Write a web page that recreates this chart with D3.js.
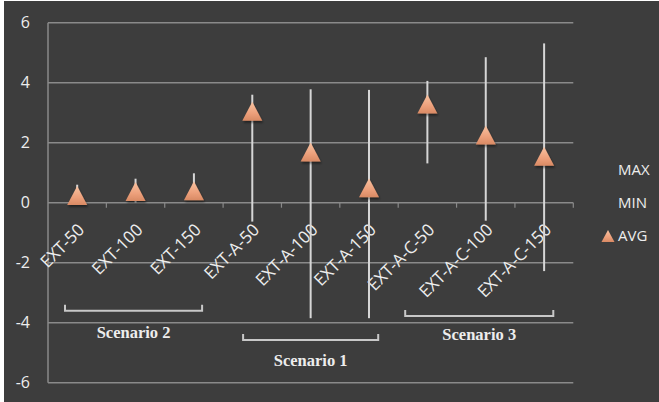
<!DOCTYPE html>
<html>
<head>
<meta charset="utf-8">
<script src="https://cdn.jsdelivr.net/npm/d3@7"></script>
<style>
  html, body { margin: 0; padding: 0; background: #ffffff; }
  svg { display: block; }
</style>
</head>
<body>
<script>
// ---- data ----
const categories = ["EXT-50", "EXT-100", "EXT-150", "EXT-A-50", "EXT-A-100", "EXT-A-150", "EXT-A-C-50", "EXT-A-C-100", "EXT-A-C-150"];
const avgValues = [0.24, 0.37, 0.40, 3.05, 1.69, 0.50, 3.29, 2.26, 1.55];
const maxValues = [0.60, 0.80, 0.98, 3.60, 3.78, 3.76, 4.06, 4.85, 5.31];
const minValues = [0.05, 0.00, 0.10, -0.63, -3.85, -3.85, 1.31, -0.60, -2.28];
const yTicks = [-6, -4, -2, 0, 2, 4, 6];
const scenarioNames = ["Scenario 2", "Scenario 1", "Scenario 3"];
const scenarioFirst = [0, 3, 6];
const scenarioLast = [2, 5, 8];
const legendLabels = ["MAX", "MIN", "AVG"];

// ---- layout ----
const W = 659, H = 402;
const plot = { left: 48, right: 573.3, top: 22.7, bottom: 382.7 };
const bracketLayout = [
  { y: -3.6,  ty: -4.31, inL: 17, inR: 21 },
  { y: -4.58, ty: -5.24, inL: 20, inR: 20 },
  { y: -3.78, ty: -4.39, inL: 7,  inR: 20 }
];
const sansFont = "'Open Sans', Lato, sans-serif";

const svg = d3.select("body").append("svg").attr("width", W).attr("height", H);
const defs = svg.append("defs");
const grad = defs.append("linearGradient").attr("id", "tri").attr("x1", 0).attr("y1", 0).attr("x2", 0).attr("y2", 1);
grad.append("stop").attr("offset", "0%").attr("stop-color", "#f8c3a2");
grad.append("stop").attr("offset", "60%").attr("stop-color", "#eda07b");
grad.append("stop").attr("offset", "100%").attr("stop-color", "#d98a64");
const shadow = defs.append("filter").attr("id", "sh").attr("x", "-50%").attr("y", "-50%").attr("width", "200%").attr("height", "200%");
shadow.append("feDropShadow").attr("dx", 1).attr("dy", 2).attr("stdDeviation", 1.2).attr("flood-color", "#000").attr("flood-opacity", 0.45);

svg.append("rect").attr("x", 4).attr("y", 1).attr("width", W - 4).attr("height", H - 1).attr("fill", "#3d3d3d");

const x = d3.scaleBand().domain(categories).range([plot.left, plot.right]).padding(0);
const y = d3.scaleLinear().domain([-6, 6]).range([plot.bottom, plot.top]);

const gridColor = "#8a8a8a";
const txtColor = "#ededed";

svg.append("g").selectAll("line").data(yTicks).join("line")
  .attr("x1", plot.left).attr("x2", plot.right)
  .attr("y1", d => y(d)).attr("y2", d => y(d))
  .attr("stroke", gridColor).attr("stroke-width", 1.5);
svg.append("line").attr("x1", plot.left).attr("x2", plot.left)
  .attr("y1", plot.top).attr("y2", plot.bottom)
  .attr("stroke", gridColor).attr("stroke-width", 1.5);

svg.append("g").selectAll("text").data(yTicks).join("text")
  .attr("x", 30).attr("y", d => y(d)).attr("dy", "0.36em")
  .attr("text-anchor", "end")
  .attr("font-family", sansFont).attr("font-size", 16)
  .attr("fill", txtColor).text(d => d);

const bounds = categories.map(c => x(c) + x.bandwidth());
svg.append("g").selectAll("line").data(bounds).join("line")
  .attr("x1", d => d).attr("x2", d => d)
  .attr("y1", y(0)).attr("y2", y(0) + 5)
  .attr("stroke", gridColor).attr("stroke-width", 1.2);

const cx = c => x(c) + x.bandwidth() / 2;
svg.append("g").selectAll("text").data(categories).join("text")
  .attr("transform", d => `translate(${cx(d) + 4},${y(0) + 24}) rotate(-45)`)
  .attr("text-anchor", "end").attr("dy", "0.35em")
  .attr("font-family", sansFont).attr("font-size", 17)
  .attr("fill", txtColor).text(d => d);

svg.append("g").selectAll("line").data(categories).join("line")
  .attr("x1", d => cx(d)).attr("x2", d => cx(d))
  .attr("y1", (d, i) => y(minValues[i])).attr("y2", (d, i) => y(maxValues[i]))
  .attr("stroke", "#d6d6d6").attr("stroke-width", 2);

const tw = 20, th = 19;
const triPath = `M0,${-th / 2}L${tw / 2},${th / 2}L${-tw / 2},${th / 2}Z`;
svg.append("g").selectAll("path").data(categories).join("path")
  .attr("d", triPath)
  .attr("transform", (d, i) => `translate(${cx(d)},${y(avgValues[i])})`)
  .attr("fill", "url(#tri)").attr("filter", "url(#sh)");

scenarioNames.forEach((name, i) => {
  const L = bracketLayout[i];
  const x0 = x(categories[scenarioFirst[i]]) + L.inL;
  const x1 = x(categories[scenarioLast[i]]) + x.bandwidth() - L.inR;
  const yb = y(L.y);
  svg.append("path")
    .attr("d", `M${x0},${yb - 6}L${x0},${yb}L${x1},${yb}L${x1},${yb - 6}`)
    .attr("fill", "none").attr("stroke", "#c8c8c8").attr("stroke-width", 2);
  svg.append("text")
    .attr("x", (x0 + x1) / 2).attr("y", y(L.ty)).attr("dy", "0.35em")
    .attr("text-anchor", "middle")
    .attr("font-family", "'Liberation Serif', 'Times New Roman', serif")
    .attr("font-weight", "bold").attr("font-size", 16.5)
    .attr("fill", txtColor).text(name);
});

const legY = [170, 202.7, 236];
const leg = svg.append("g");
leg.selectAll("text").data(legendLabels).join("text")
  .attr("x", 618).attr("y", (d, i) => legY[i]).attr("dy", "0.36em")
  .attr("font-family", sansFont).attr("font-size", 15)
  .attr("fill", txtColor).text(d => d);
const ltw = 13, lth = 12;
leg.append("path")
  .attr("d", `M0,${-lth / 2}L${ltw / 2},${lth / 2}L${-ltw / 2},${lth / 2}Z`)
  .attr("transform", `translate(608,${legY[2]})`)
  .attr("fill", "url(#tri)");
</script>
</body>
</html>
